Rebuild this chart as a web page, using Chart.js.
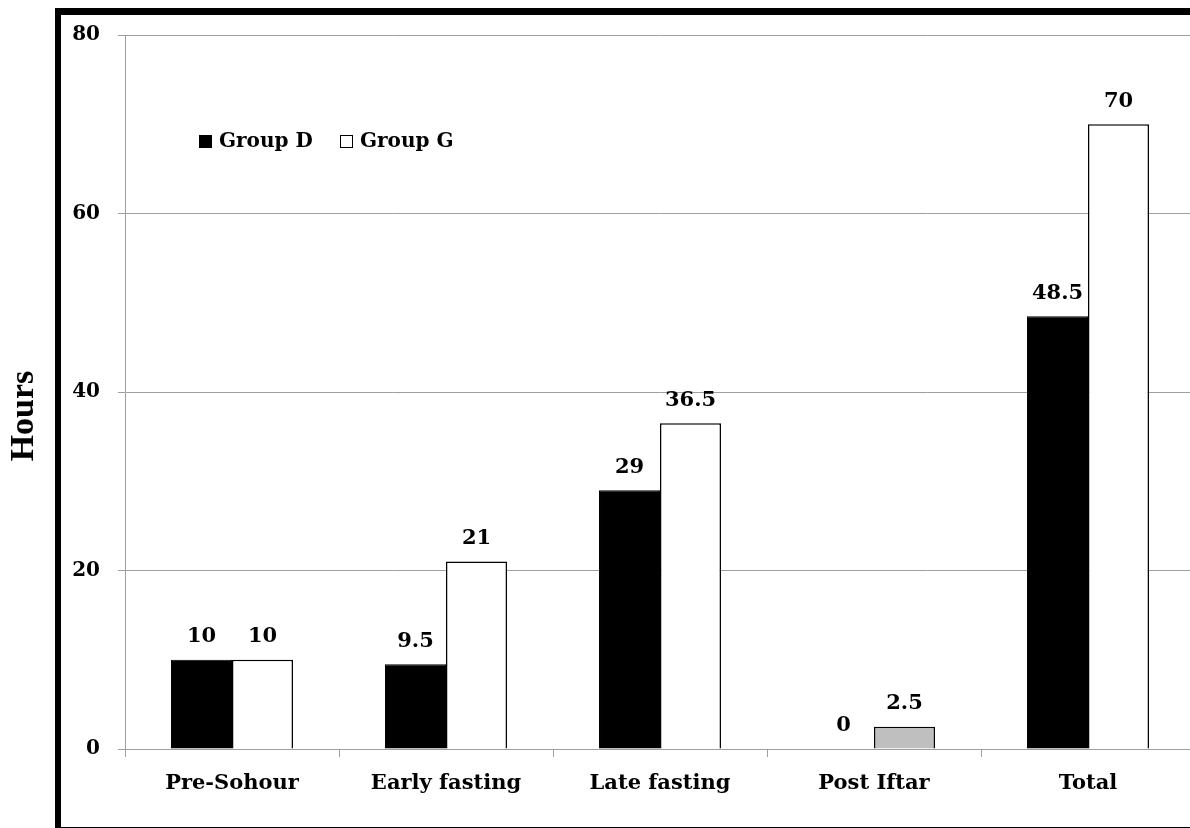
<!DOCTYPE html>
<html>
<head>
<meta charset="utf-8">
<script src="https://cdn.jsdelivr.net/npm/chart.js@4.4.0/dist/chart.umd.min.js"></script>
<style>
  html, body { margin: 0; padding: 0; background: #fff; overflow: hidden; }
  #wrap { position: relative; width: 1190px; height: 828px; overflow: hidden; }
  #frame { position: absolute; left: 55px; top: 8px; width: 1200px; height: 812px;
           border-top: 7px solid #000; border-left: 6px solid #000; border-bottom: 3px solid #000; }
  #grafico { position: absolute; left: 0; top: 0; }
</style>
</head>
<body>
<div id="wrap">
  <div id="frame"></div>
  <canvas id="grafico" width="1195" height="828"></canvas>
</div>
<script>
// Dados do gráfico
const categorias = ['Pre-Sohour', 'Early fasting', 'Late fasting', 'Post Iftar', 'Total'];
const grupoD = [10, 9.5, 29, 0, 48.5];
const grupoG = [10, 21, 36.5, 2.5, 70];
const rotulosD = ['10', '9.5', '29', '0', '48.5'];
const rotulosG = ['10', '21', '36.5', '2.5', '70'];
const ticksY = [0, 20, 40, 60, 80];

const fonteSerif = "'DejaVu Serif', serif";
const corGrade = '#9f9f9f';

// Cor das barras do Grupo G (Post Iftar aparece em cinza)
const coresG = categorias.map((c, i) => i === 3 ? '#bfbfbf' : '#ffffff');

// Plugin: rótulos acima das barras, legenda interna e título do eixo Y
const pluginExtras = {
    id: 'extras',
    afterDatasetsDraw(chart) {
        const ctx = chart.ctx;
        ctx.save();
        ctx.fillStyle = '#000';
        ctx.font = "bold 21px " + fonteSerif;
        ctx.textAlign = 'center';
        ctx.textBaseline = 'middle';
        const rotulos = [rotulosD, rotulosG];
        chart.data.datasets.forEach((ds, di) => {
            chart.getDatasetMeta(di).data.forEach((bar, i) => {
                ctx.fillText(rotulos[di][i], bar.x, bar.y - 23);
            });
        });

        // Legenda
        ctx.font = "bold 20px " + fonteSerif;
        ctx.textAlign = 'left';
        ctx.fillStyle = '#000';
        ctx.fillRect(199, 135, 13, 13);
        ctx.fillText('Group D', 219, 142);
        ctx.fillStyle = '#fff';
        ctx.fillRect(340, 135, 13, 13);
        ctx.strokeStyle = '#000';
        ctx.lineWidth = 1;
        ctx.strokeRect(340.5, 135.5, 12, 12);
        ctx.fillStyle = '#000';
        ctx.fillText('Group G', 360, 142);

        // Título do eixo
        ctx.translate(24, 416);
        ctx.rotate(-Math.PI / 2);
        ctx.textAlign = 'center';
        ctx.font = "bold 34px 'Liberation Serif', serif";
        ctx.fillText('Hours', 0, 0);
        ctx.restore();
    }
};

const ctx = document.getElementById('grafico').getContext('2d');
new Chart(ctx, {
    type: 'bar',
    data: {
        labels: categorias,
        datasets: [
            { label: 'Group D', data: grupoD, backgroundColor: '#000', borderColor: '#000', borderWidth: 1 },
            { label: 'Group G', data: grupoG, backgroundColor: coresG, borderColor: '#000', borderWidth: 1.5 }
        ]
    },
    options: {
        responsive: false,
        animation: false,
        layout: { padding: { top: 35, left: 0, right: 0, bottom: 0 } },
        datasets: { bar: { categoryPercentage: 0.57, barPercentage: 1 } },
        plugins: { legend: { display: false }, tooltip: { enabled: false } },
        scales: {
            x: {
                grid: { offset: true, drawOnChartArea: false, color: corGrade, tickLength: 8 },
                border: { color: corGrade },
                ticks: { color: '#000', font: { family: fonteSerif, size: 21, weight: 'bold' }, padding: 14, maxRotation: 0 },
                afterFit(scale) { scale.height = 79; }
            },
            y: {
                min: 0, max: 80,
                afterBuildTicks(scale) { scale.ticks = ticksY.map(v => ({ value: v })); },
                grid: { color: corGrade, tickLength: 7 },
                border: { color: corGrade },
                ticks: { color: '#000', font: { family: fonteSerif, size: 20, weight: 'bold' }, padding: 18 },
                afterFit(scale) { scale.width = 125; }
            }
        }
    },
    plugins: [pluginExtras]
});
</script>
</body>
</html>
